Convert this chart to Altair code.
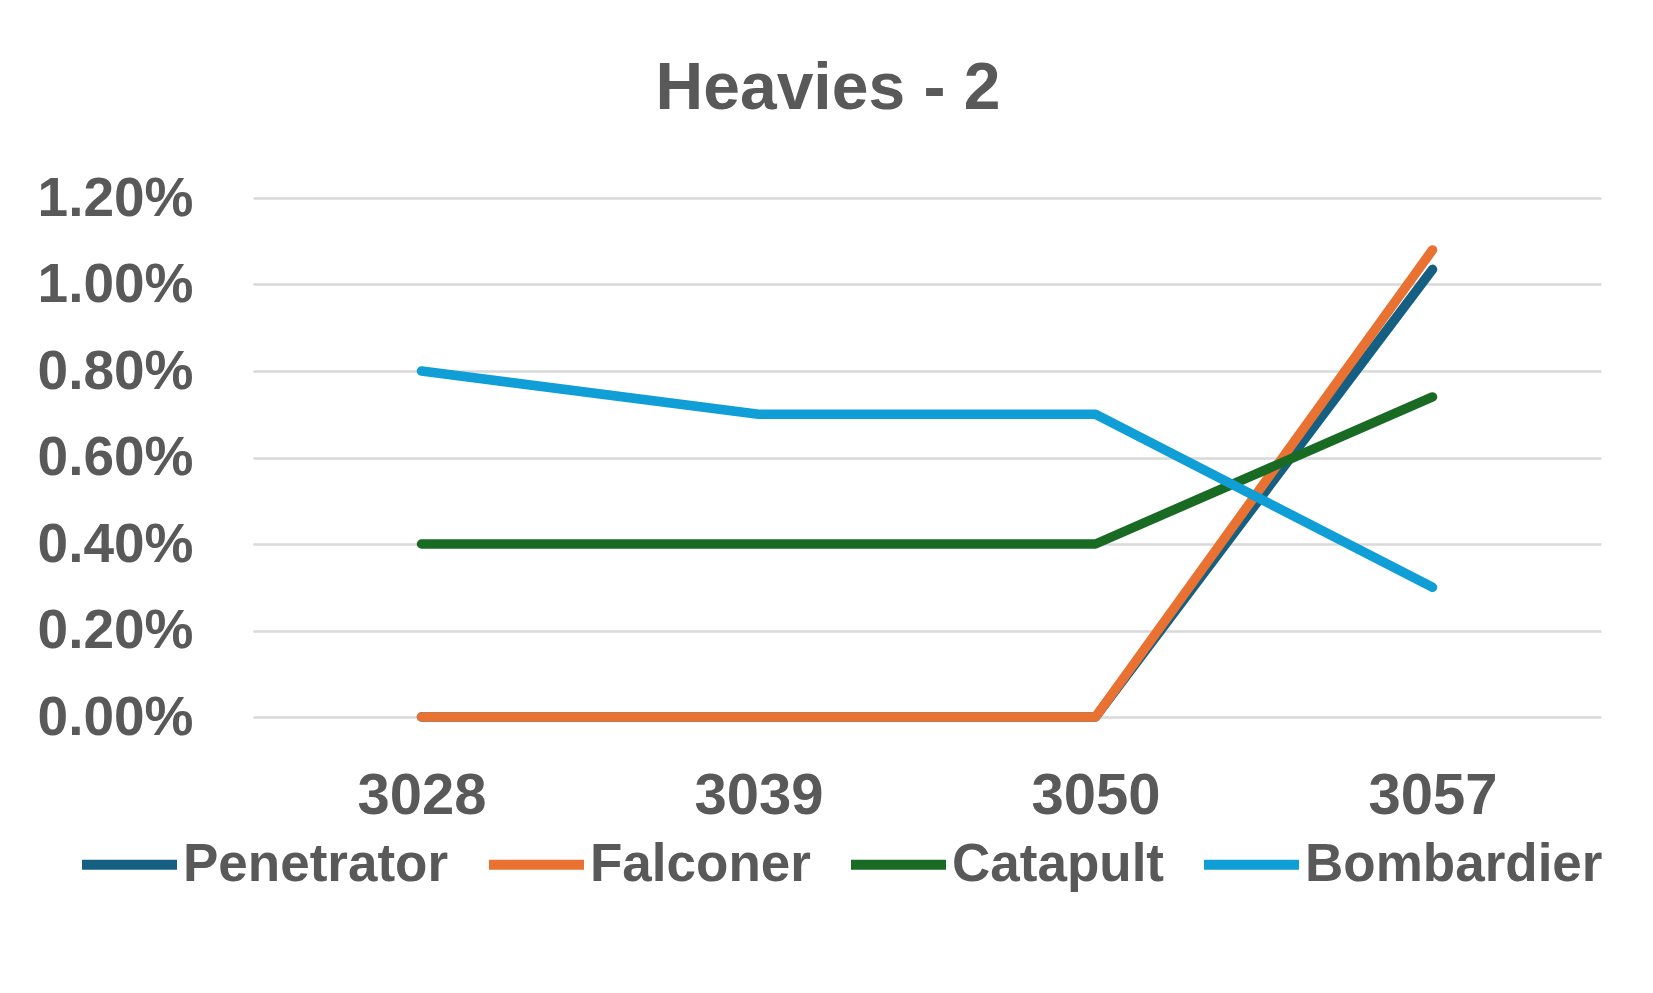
import altair as alt
import pandas as pd

years = ["3028", "3039", "3050", "3057"]
series_names = ["Penetrator", "Falconer", "Catapult", "Bombardier"]
penetrator = [0.0, 0.0, 0.0, 0.01035]
falconer = [0.0, 0.0, 0.0, 0.0108]
catapult = [0.004, 0.004, 0.004, 0.0074]
bombardier = [0.008, 0.007, 0.007, 0.003]
colors = ["#156082", "#E97132", "#196B24", "#0F9ED5"]
y_ticks = [0.0, 0.002, 0.004, 0.006, 0.008, 0.010, 0.012]

values = [penetrator, falconer, catapult, bombardier]
rows = []
for name, vals in zip(series_names, values):
    for yr, v in zip(years, vals):
        rows.append({"year": yr, "series": name, "value": v})
df = pd.DataFrame(rows)

FONT = "Liberation Sans"
GREY = "#595959"

x_enc = alt.X("year:O", sort=years, title=None,
              scale=alt.Scale(type="point", padding=0.5),
              axis=alt.Axis(labelAngle=0, labelFontSize=58, labelFont=FONT,
                            labelFontWeight="bold", labelColor=GREY,
                            labelBaseline="alphabetic", labelPadding=96,
                            ticks=False, tickSize=0, domain=False, grid=False))
y_enc = alt.Y("value:Q", title=None,
              scale=alt.Scale(domain=[0, 0.012], nice=False),
              axis=alt.Axis(values=y_ticks, format=".2%", labelFontSize=55,
                            labelFont=FONT, labelFontWeight="bold", labelColor=GREY,
                            labelPadding=60, ticks=False, tickSize=0, domain=False,
                            grid=True, gridColor="#D9D9D9", gridWidth=2.5))
color_enc = alt.Color("series:N",
                      scale=alt.Scale(domain=series_names, range=colors),
                      legend=alt.Legend(title=None, orient="none", direction="horizontal",
                                        columns=4, legendX=-176, legendY=614,
                                        symbolType="stroke", symbolSize=9025,
                                        symbolStrokeWidth=10, labelFontSize=53,
                                        labelFont=FONT, labelFontWeight="bold",
                                        labelColor=GREY, labelOffset=1,
                                        columnPadding=20, labelLimit=600))

layers = []
for name in series_names:
    layers.append(
        alt.Chart(df).transform_filter(alt.datum.series == name)
        .mark_line(strokeWidth=9.5, strokeCap="round", strokeJoin="round")
        .encode(x=x_enc, y=y_enc, color=color_enc)
    )

chart = alt.layer(*layers).properties(
    width=1348, height=519,
    background="white",
    autosize=alt.AutoSizeParams(type="none"),
    padding={"left": 245, "top": 190, "right": 44, "bottom": 268},
    title=alt.TitleParams("Heavies - 2", fontSize=66, fontWeight="bold", font=FONT,
                          color=GREY, anchor="middle", baseline="alphabetic",
                          offset=89, dx=-99, dy=93),
).configure_view(stroke=None)

chart.save("out.html", embed_options={"renderer": "svg", "actions": False})
